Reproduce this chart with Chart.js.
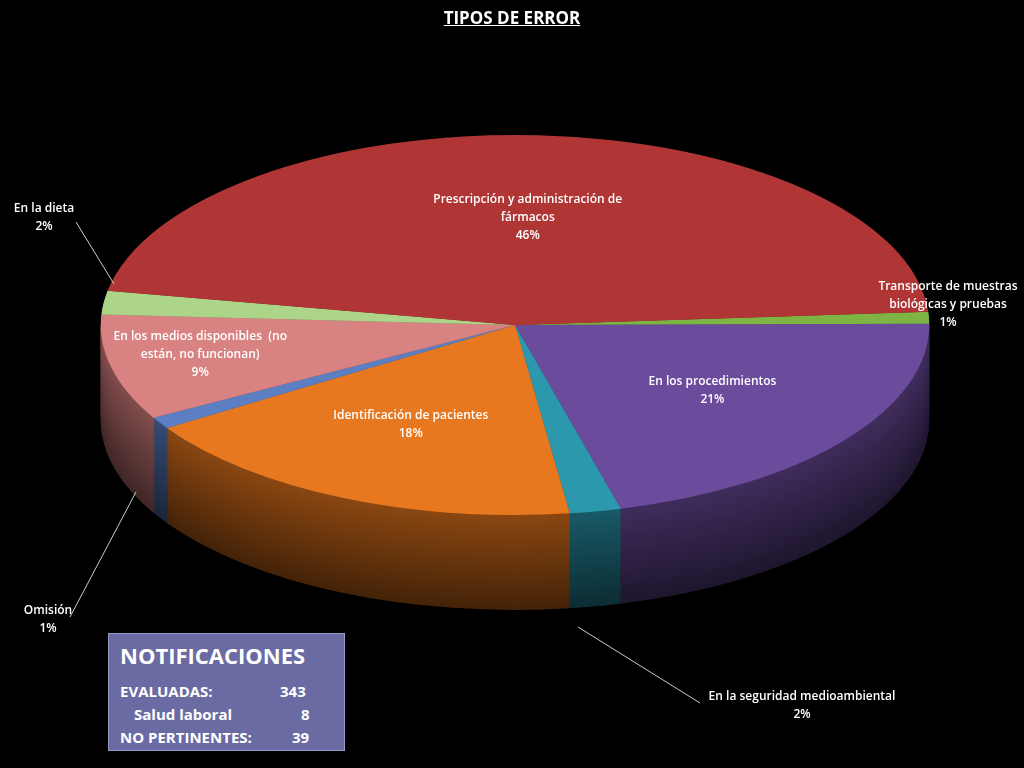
<!DOCTYPE html>
<html><head><meta charset="utf-8">
<script src="https://cdn.jsdelivr.net/npm/chart.js@4"></script>
<style>
body{margin:0;background:#000;width:1024px;height:768px;overflow:hidden;font-family:"Open Sans",sans-serif}
#wrap{position:absolute;left:0;top:0;width:1024px;height:768px}
#title{position:absolute;top:6px;width:1024px;text-align:center;color:#fff;font-weight:700;font-size:17px;text-decoration:underline}
#box{position:absolute;left:108px;top:633px;width:235px;height:116px;background:#6b6ba3;border:1px solid #9a9ac8;color:#fff;font-weight:700}
</style></head><body>
<div id="wrap"><canvas id="c" width="1024" height="768"></canvas></div>
<div id="title">TIPOS DE ERROR</div>
<div id="box">
 <div style="font-size:22px;margin:6px 0 0 11px">NOTIFICACIONES</div>
 <div style="font-size:15px;margin:10px 0 0 11px;line-height:23px">
  <div>EVALUADAS:<span style="position:absolute;left:171px">343</span></div>
  <div style="padding-left:14px">Salud laboral<span style="position:absolute;left:192px">8</span></div>
  <div>NO PERTINENTES:<span style="position:absolute;left:183px">39</span></div>
 </div>
</div>
<script>
// slices in clockwise order, starting at the right side
const categories = [
  ['Transporte de muestras', 'biológicas y pruebas'],
  ['En los procedimientos'],
  ['En la seguridad medioambiental'],
  ['Identificación de pacientes'],
  ['Omisión'],
  ['En los medios disponibles  (no', 'están, no funcionan)'],
  ['En la dieta'],
  ['Prescripción y administración de', 'fármacos'],
];
const values = [1, 21, 2, 18, 1, 9, 2, 46];
const colors = ['#7db443', '#6b4c9c', '#2b98ad', '#e8781f', '#5b7fc2', '#d98282', '#add58a', '#b03636'];
// labels drawn outside the pie with a leader line: text x,y and line end
const outside = {
  0: {x: 948, y: 290, lx: null},
  2: {x: 802, y: 700, lx: [700, 703, 578, 627]},
  4: {x: 48, y: 614, lx: [70, 617, 136, 492]},
  6: {x: 44, y: 212, lx: [76, 222, 114, 284]},
};
// fine placement of inside labels (fraction of radius)
const labelRadius = [0.6, 0.6, 0.6, 0.6, 0.6, 0.78, 0.6, 0.55];

const SX = 2.18, DEPTH = 95;

function shade(hex, f) {
  const n = parseInt(hex.slice(1), 16);
  const r = (n >> 16) * f, g = ((n >> 8) & 255) * f, b = (n & 255) * f;
  return `rgb(${r|0},${g|0},${b|0})`;
}

const pie3d = {
  id: 'pie3d',
  beforeDatasetsDraw(chart) {
    const ctx = chart.ctx;
    const arcs = chart.getDatasetMeta(0).data;
    const cx = arcs[0].x;
    // side walls
    for (let d = DEPTH; d > 0; d--) {
      arcs.forEach((a, i) => {
        ctx.save();
        ctx.translate(cx, d);
        ctx.scale(SX, 1);
        ctx.translate(-cx, 0);
        ctx.beginPath();
        ctx.moveTo(a.x, a.y);
        ctx.arc(a.x, a.y, a.outerRadius, a.startAngle, a.endAngle);
        ctx.closePath();
        ctx.fillStyle = shade(colors[i], 0.3 + 0.3 * (1 - d / DEPTH));
        ctx.fill();
        ctx.restore();
      });
    }
    ctx.save();
    ctx.translate(cx, 0);
    ctx.scale(SX, 1);
    ctx.translate(-cx, 0);
  },
  afterDatasetsDraw(chart) {
    const ctx = chart.ctx;
    ctx.restore();
    const arcs = chart.getDatasetMeta(0).data;
    ctx.fillStyle = '#fff';
    ctx.strokeStyle = '#ccc';
    ctx.lineWidth = 1;
    ctx.font = '600 12px "Open Sans"';
    ctx.textAlign = 'center';
    arcs.forEach((a, i) => {
      const lines = categories[i].concat([values[i] + '%']);
      let x, y;
      if (outside[i]) {
        x = outside[i].x; y = outside[i].y;
        const l = outside[i].lx;
        if (l) { ctx.beginPath(); ctx.moveTo(l[0], l[1]); ctx.lineTo(l[2], l[3]); ctx.stroke(); }
      } else {
        const m = (a.startAngle + a.endAngle) / 2;
        x = a.x + Math.cos(m) * a.outerRadius * labelRadius[i] * SX;
        y = a.y + Math.sin(m) * a.outerRadius * labelRadius[i] - (lines.length - 1) * 9;
      }
      lines.forEach((t, k) => ctx.fillText(t, x, y + k * 18));
    });
  }
};

new Chart(document.getElementById('c'), {
  type: 'pie',
  data: {labels: categories.map((c) => c.join(' ')), datasets: [{data: values, backgroundColor: colors, borderWidth: 0}]},
  options: {
    responsive: false, animation: false, rotation: 86,
    layout: {padding: {left: 6, right: 0, top: 135, bottom: 253}},
    plugins: {legend: {display: false}, tooltip: {enabled: false}},
  },
  plugins: [pie3d],
});
</script>
</body></html>
